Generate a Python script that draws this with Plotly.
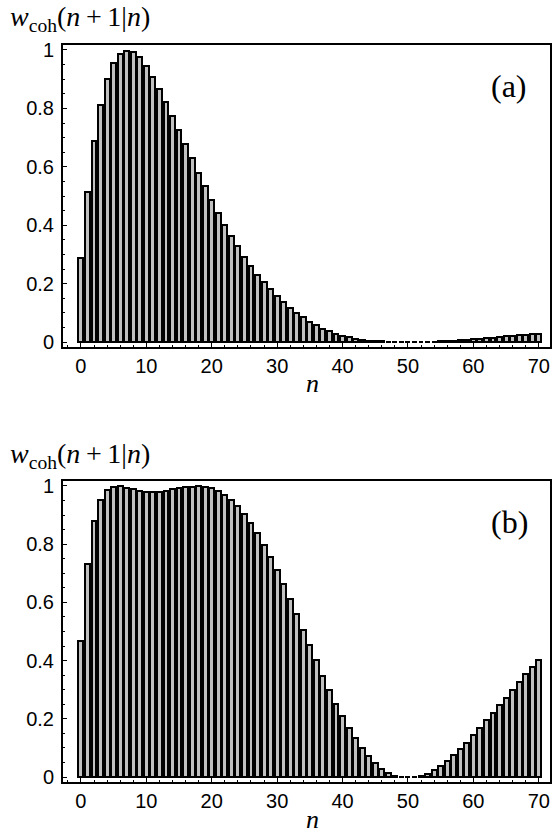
import plotly.graph_objects as go

n_values = list(range(71))

w_a = [0.286, 0.515, 0.687, 0.812, 0.900, 0.957, 0.986, 0.998, 0.993, 0.977,
       0.945, 0.908, 0.868, 0.822, 0.774, 0.727, 0.677, 0.629, 0.578, 0.534,
       0.487, 0.443, 0.400, 0.363, 0.328, 0.292, 0.261, 0.231, 0.206, 0.180,
       0.157, 0.136, 0.117, 0.100, 0.084, 0.070, 0.057, 0.046, 0.037, 0.029,
       0.022, 0.016, 0.011, 0.008, 0.005, 0.003, 0.002, 0.001, 0.0006, 0.0003,
       0.0002, 0.0003, 0.0006, 0.001, 0.0015, 0.0025, 0.0035, 0.0045, 0.006, 0.0075,
       0.009, 0.011, 0.013, 0.015, 0.017, 0.019, 0.021, 0.023, 0.025, 0.027,
       0.029]

w_b = [0.469, 0.733, 0.878, 0.951, 0.985, 0.998, 0.999, 0.994, 0.989, 0.983,
       0.981, 0.979, 0.981, 0.984, 0.988, 0.992, 0.996, 0.998, 0.999, 0.997,
       0.992, 0.984, 0.969, 0.951, 0.930, 0.904, 0.872, 0.839, 0.797, 0.756,
       0.710, 0.662, 0.611, 0.559, 0.505, 0.455, 0.401, 0.348, 0.300, 0.252,
       0.209, 0.168, 0.133, 0.101, 0.071, 0.047, 0.027, 0.013, 0.005, 0.001,
       0.0002, 0.001, 0.005, 0.011, 0.023, 0.038, 0.055, 0.074, 0.096, 0.118,
       0.143, 0.168, 0.195, 0.221, 0.247, 0.273, 0.300, 0.326, 0.353, 0.378,
       0.402]

y_tickvals = [0, 0.2, 0.4, 0.6, 0.8, 1]
y_ticktext = ["0", "0.2", "0.4", "0.6", "0.8", "1"]
x_tickvals = [0, 10, 20, 30, 40, 50, 60, 70]
x_ticktext = ["0", "10", "20", "30", "40", "50", "60", "70"]
panel_labels = ["(a)", "(b)"]
y_title = "<i>w</i><sub>coh</sub>(<i>n</i>\u2009+\u20091|<i>n</i>)"
x_title = "<i>n</i>"

W, H = 556, 839
ML, MR, MT, MB = 63, 4, 45, 57
PW = W - ML - MR
PH = H - MT - MB


def px(x):
    return (x - ML) / PW


def py(y):
    return (H - MB - y) / PH


BAR_FILL = "#c0c0c0"
fig = go.Figure()
for vals, xa, ya in [(w_a, "x", "y"), (w_b, "x2", "y2")]:
    fig.add_trace(go.Bar(
        x=n_values, y=vals, width=0.75, xaxis=xa, yaxis=ya,
        marker=dict(color=BAR_FILL, line=dict(color="black", width=2)),
        showlegend=False,
    ))

tick_font = dict(family="Liberation Sans, Arial, sans-serif", size=20, color="black")
serif = "Liberation Serif, Times New Roman, serif"

xcommon = dict(range=[-2.741, 71.72], tickvals=x_tickvals, ticktext=x_ticktext,
               ticks="inside", ticklen=4, tickwidth=1, tickcolor="black",
               minor=dict(dtick=2, ticks="inside", ticklen=2, tickcolor="black"),
               showline=True, linecolor="black", linewidth=2, mirror=True,
               showgrid=False, zeroline=False, tickfont=tick_font)
ycommon = dict(range=[-0.0171, 1.0171], tickvals=y_tickvals, ticktext=y_ticktext,
               ticks="inside", ticklen=4, tickwidth=1, tickcolor="black",
               minor=dict(dtick=0.05, ticks="inside", ticklen=2, tickcolor="black"),
               showline=True, linecolor="black", linewidth=2, mirror=True,
               showgrid=False, zeroline=False, tickfont=tick_font,
               ticklabelstandoff=3)

top_lo = py(347)
bot_hi = py(481)

fig.update_layout(
    width=W, height=H,
    margin=dict(l=ML, r=MR, t=MT, b=MB, pad=0),
    paper_bgcolor="white", plot_bgcolor="white",
    bargap=0,
    xaxis=dict(domain=[0, 1], anchor="y", **xcommon),
    yaxis=dict(domain=[top_lo, 1], anchor="x", **ycommon),
    xaxis2=dict(domain=[0, 1], anchor="y2", **xcommon),
    yaxis2=dict(domain=[0, bot_hi], anchor="x2", **ycommon),
)

annotations = []
for i, off in enumerate([0, 436]):
    annotations.append(dict(text=y_title, xref="paper", yref="paper",
                            x=px(8), y=py(19 + off), xanchor="left", yanchor="middle",
                            showarrow=False, font=dict(family=serif, size=28, color="black")))
    annotations.append(dict(text=panel_labels[i], xref="paper", yref="paper",
                            x=px(511), y=py(86 + off), xanchor="center", yanchor="middle",
                            showarrow=False, font=dict(family=serif, size=32, color="black")))
    annotations.append(dict(text=x_title, xref="paper", yref="paper",
                            x=px(314), y=py(383 + off), xanchor="center", yanchor="middle",
                            showarrow=False, font=dict(family=serif, size=26, color="black")))
fig.update_layout(annotations=annotations)

fig.write_html("out.html", config={"displayModeBar": False},
               post_script="document.body.style.margin='0';document.body.style.overflow='hidden';")
